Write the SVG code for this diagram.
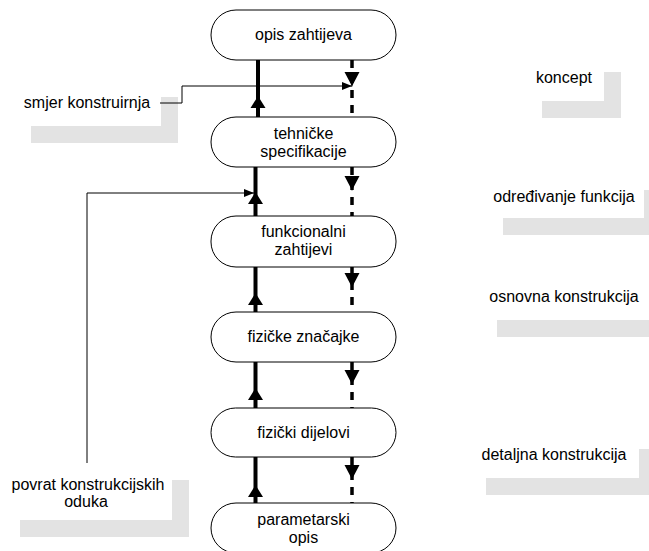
<svg xmlns="http://www.w3.org/2000/svg" xmlns:xlink="http://www.w3.org/1999/xlink" width="649" height="551" viewBox="0 0 649 551">
<style>
  .node rect { fill: #ffffff; stroke: #000000; stroke-width: 1; }
  text { font-family: "Liberation Sans", Arial, sans-serif; font-size: 16px; fill: #000000; text-anchor: middle; }
  .shadow { fill: #e3e3e3; stroke: none; }
  .solid { stroke: #000000; stroke-width: 4; fill: none; }
  .dashed { stroke: #000000; stroke-width: 3.5; fill: none; stroke-dasharray: 8 7; }
  .thin { stroke: #000000; stroke-width: 1; fill: none; }
  .head { fill: #000000; stroke: none; }
</style>
<defs>
  <path id="upHead" d="M0,0 L7.5,12 L-7.5,12 Z"/>
  <path id="downHead" d="M-7.5,0 L7.5,0 L1.2,12 L0,15 L-1.2,12 Z"/>
  <marker id="arrowSmall" viewBox="0 0 10 8" refX="10" refY="4" markerWidth="10" markerHeight="8" markerUnits="userSpaceOnUse" orient="auto">
    <path d="M0,0 L10,4 L0,8 Z" fill="#000000"/>
  </marker>
</defs>

<g id="labels">
  <g id="label-smjer">
    <path class="shadow" d="M161,97 H178 V143 H31 V126 H161 Z"/>
    <text x="87" y="108">smjer konstruirnja</text>
  </g>
  <g id="label-povrat">
    <path class="shadow" d="M172,480 H189 V537 H20 V520 H172 Z"/>
    <text x="88" y="490">povrat konstrukcijskih</text>
    <text x="86" y="507">oduka</text>
  </g>
  <g id="label-koncept">
    <path class="shadow" d="M604,72 H621 V118 H542 V101 H604 Z"/>
    <text x="564" y="83">koncept</text>
  </g>
  <g id="label-odredivanje">
    <path class="shadow" d="M644,190 H661 V235 H503 V218 H644 Z"/>
    <text x="564" y="202">određivanje funkcija</text>
  </g>
  <g id="label-osnovna">
    <path class="shadow" d="M650,291 H667 V337 H497 V320 H650 Z"/>
    <text x="564" y="302">osnovna konstrukcija</text>
  </g>
  <g id="label-detaljna">
    <path class="shadow" d="M639,449 H656 V495 H486 V478 H639 Z"/>
    <text x="554" y="460">detaljna konstrukcija</text>
  </g>
</g>

<g id="connectors">
  <!-- solid upward lines -->
  <line class="solid" x1="258" y1="60" x2="258" y2="117"/>
  <line class="solid" x1="255.5" y1="167" x2="255.5" y2="216"/>
  <line class="solid" x1="255.5" y1="267" x2="255.5" y2="312"/>
  <line class="solid" x1="255.5" y1="362" x2="255.5" y2="408"/>
  <line class="solid" x1="255.5" y1="457" x2="255.5" y2="503"/>
  <use xlink:href="#upHead" class="head" x="258" y="96"/>
  <use xlink:href="#upHead" class="head" x="255.5" y="192"/>
  <use xlink:href="#upHead" class="head" x="255.5" y="293"/>
  <use xlink:href="#upHead" class="head" x="255.5" y="388"/>
  <use xlink:href="#upHead" class="head" x="255.5" y="485"/>
  <!-- dashed downward lines -->
  <line class="dashed" x1="352" y1="60" x2="352" y2="119"/>
  <line class="dashed" x1="352" y1="167" x2="352" y2="218"/>
  <line class="dashed" x1="352" y1="267" x2="352" y2="314"/>
  <line class="dashed" x1="352" y1="362" x2="352" y2="410"/>
  <line class="dashed" x1="352" y1="457" x2="352" y2="505"/>
  <use xlink:href="#downHead" class="head" x="352" y="72"/>
  <use xlink:href="#downHead" class="head" x="352" y="176"/>
  <use xlink:href="#downHead" class="head" x="352" y="273"/>
  <use xlink:href="#downHead" class="head" x="352" y="370"/>
  <use xlink:href="#downHead" class="head" x="352" y="465"/>
  <!-- label leaders -->
  <polyline class="thin" points="160,103 182,103 182,86 352,86" marker-end="url(#arrowSmall)"/>
  <polyline class="thin" points="87,463 87,193 254,193" marker-end="url(#arrowSmall)"/>
</g>

<g id="node-opis-zahtijeva" class="node">
  <rect x="211" y="10" width="185" height="50" rx="25" ry="25"/>
  <text x="303.5" y="40">opis zahtijeva</text>
</g>
<g id="node-tehnicke-specifikacije" class="node">
  <rect x="211" y="117" width="185" height="50" rx="25" ry="25"/>
  <text x="303.5" y="139">tehničke</text>
  <text x="303.5" y="157">specifikacije</text>
</g>
<g id="node-funkcionalni-zahtijevi" class="node">
  <rect x="211" y="216" width="185" height="51" rx="25" ry="25"/>
  <text x="303.5" y="237">funkcionalni</text>
  <text x="303.5" y="255">zahtijevi</text>
</g>
<g id="node-fizicke-znacajke" class="node">
  <rect x="211" y="312" width="185" height="50" rx="25" ry="25"/>
  <text x="303.5" y="342">fizičke značajke</text>
</g>
<g id="node-fizicki-dijelovi" class="node">
  <rect x="211" y="408" width="185" height="49" rx="24.5" ry="24.5"/>
  <text x="303.5" y="438">fizički dijelovi</text>
</g>
<g id="node-parametarski-opis" class="node">
  <rect x="211" y="503" width="185" height="50" rx="25" ry="25"/>
  <text x="303.5" y="525">parametarski</text>
  <text x="303.5" y="543">opis</text>
</g>
</svg>
